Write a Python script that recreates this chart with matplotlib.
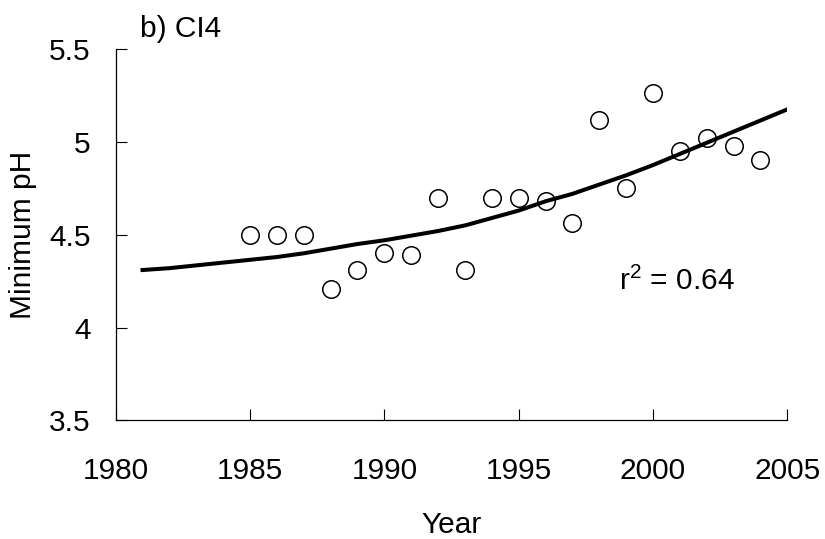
import matplotlib
matplotlib.use("Agg")
import matplotlib.pyplot as plt

# observed minimum pH per year
years = [1985, 1986, 1987, 1988, 1989, 1990, 1991, 1992, 1993, 1994,
         1995, 1996, 1997, 1998, 1999, 2000, 2001, 2002, 2003, 2004]
min_ph = [4.50, 4.50, 4.50, 4.21, 4.31, 4.40, 4.39, 4.70, 4.31, 4.70,
          4.70, 4.68, 4.565, 5.12, 4.75, 5.265, 4.95, 5.02, 4.98, 4.905]

# trend curve
trend_years = list(range(1981, 2006))
trend_ph = [4.31, 4.32, 4.335, 4.35, 4.365, 4.38, 4.40, 4.425, 4.45, 4.47,
            4.495, 4.52, 4.55, 4.59, 4.63, 4.68, 4.72, 4.77, 4.82, 4.875,
            4.935, 4.995, 5.055, 5.115, 5.175]

x_ticks = [1980, 1985, 1990, 1995, 2000, 2005]
y_ticks = [3.5, 4, 4.5, 5, 5.5]
y_tick_labels = ["3.5", "4", "4.5", "5", "5.5"]

plt.rcParams["font.family"] = ["Liberation Sans", "DejaVu Sans"]
plt.rcParams["mathtext.fontset"] = "custom"
plt.rcParams["mathtext.rm"] = "Liberation Sans"
plt.rcParams["mathtext.it"] = "Liberation Sans"

fig = plt.figure(figsize=(8.25, 5.39), dpi=100)
ax = fig.add_axes([0.1402, 0.2199, 0.8141, 0.6892])

ax.plot(trend_years, trend_ph, color="black", linewidth=2.9, zorder=2)
ax.plot(years, min_ph, linestyle="none", marker="o", markersize=12.6,
        markerfacecolor="none", markeredgecolor="black", markeredgewidth=1.1,
        zorder=3)

ax.set_xlim(1980, 2005)
ax.set_ylim(3.5, 5.5)
ax.set_xticks(x_ticks)
ax.set_yticks(y_ticks)
ax.set_yticklabels(y_tick_labels)

for side in ("top", "right"):
    ax.spines[side].set_visible(False)
for side in ("left", "bottom"):
    ax.spines[side].set_linewidth(0.9)

ax.tick_params(axis="both", direction="in", length=8, width=0.8,
               labelsize=21.5, colors="black")
ax.tick_params(axis="y", pad=18)
ax.tick_params(axis="x", pad=26)

ax.set_xlabel("Year", fontsize=21.5, labelpad=19)
ax.set_ylabel("Minimum pH", fontsize=21.5, labelpad=9)

ax.text(0.036, 1.032, "b) CI4", transform=ax.transAxes, fontsize=21.5,
        ha="left", va="baseline")
ax.text(677, 258, "r$^2$ = 0.64", transform=None, fontsize=21.5,
        ha="center", va="center")

fig.savefig("out.png", dpi=100)
